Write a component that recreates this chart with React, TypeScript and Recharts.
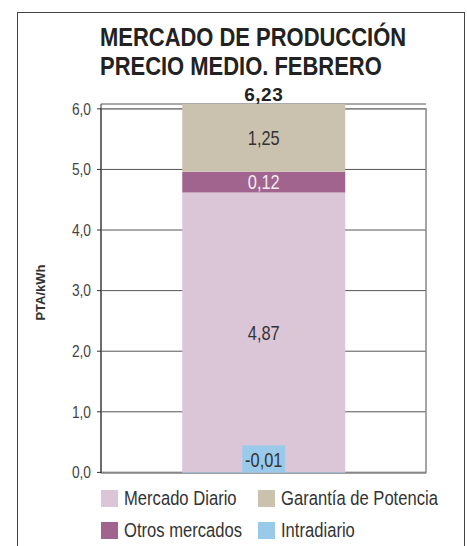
import React from 'react';
import { BarChart, Bar, XAxis, YAxis, CartesianGrid, ReferenceArea, LabelList, Legend } from 'recharts';

const categories = ['Febrero'];
const seriesNames = ['Mercado Diario', 'Otros mercados', 'Garantía de Potencia', 'Intradiario'];
const seriesColors = ['#DBC6D8', '#A0648F', '#CBC1AF', '#9ACAEA'];
const mercadoDiario = [4.62];
const otrosMercados = [0.34];
const garantiaPotencia = [1.12];
const intradiario = [-0.01];
const mercadoDiarioLabels = ['4,87'];
const otrosMercadosLabels = ['0,12'];
const garantiaPotenciaLabels = ['1,25'];
const intradiarioLabels = ['-0,01'];
const totalLabels = ['6,23'];
const yTicks = [0, 1, 2, 3, 4, 5, 6];
const legendOrder = [0, 2, 1, 3];

const FONT = '"Liberation Sans", Arial, sans-serif';
const SX = 0.82;

const data = categories.map((c, i) => ({
  name: c,
  md: mercadoDiario[i],
  om: otrosMercados[i],
  gp: garantiaPotencia[i],
  id: intradiario[i],
  mdL: mercadoDiarioLabels[i],
  omL: otrosMercadosLabels[i],
  gpL: garantiaPotenciaLabels[i],
  idL: intradiarioLabels[i],
  totL: totalLabels[i],
}));

type NTProps = {
  x: number;
  y: number;
  size: number;
  weight?: string;
  fill?: string;
  anchor?: 'start' | 'middle' | 'end';
  rotate?: number;
  sx?: number;
  children?: React.ReactNode;
};

// y is the vertical centre of capital letters
const NText = ({ x, y, size, weight = 'normal', fill = '#333', anchor = 'middle', rotate = 0, sx = SX, children }: NTProps) => (
  <text
    transform={`translate(${x},${y}) rotate(${rotate}) scale(${sx},1)`}
    x={0}
    y={0.358 * size}
    textAnchor={anchor}
    fontFamily={FONT}
    fontSize={size}
    fontWeight={weight}
    fill={fill}
  >
    {children}
  </text>
);

const centerLabel = (fill: string) => (p: any) => {
  const vb = p.viewBox || p;
  const x = Number(vb.x);
  const y = Number(vb.y);
  const w = Number(vb.width);
  const h = Number(vb.height);
  return (
    <NText x={x + w / 2} y={y + h / 2} size={20} fill={fill}>
      {p.value}
    </NText>
  );
};

const TotalLabel = (p: any) => {
  const vb = p.viewBox || p;
  const x = Number(vb.x);
  const y = Number(vb.y);
  const w = Number(vb.width);
  const h = Number(vb.height);
  const top = Math.min(y, y + h);
  return (
    <text x={x + w / 2} y={top - 3.5} textAnchor="middle" fontFamily={FONT} fontSize={19} fontWeight="bold" fill="#222" letterSpacing={0.5}>
      {p.value}
    </text>
  );
};

const IntraLabel = (p: any) => {
  const vb = p.viewBox || p;
  const x = Number(vb.x);
  const y = Number(vb.y);
  const w = Number(vb.width);
  const h = Number(vb.height);
  const base = Math.max(y, y + h) - Math.abs(h);
  const cx = x + w / 2;
  const bw = 43;
  const bh = 27;
  return (
    <g>
      <rect x={cx - bw / 2} y={base - bh} width={bw} height={bh} fill={seriesColors[3]} />
      <NText x={cx} y={base - bh / 2 + 1} size={20} fill="#333">
        {p.value}
      </NText>
    </g>
  );
};

const YTick = (p: any) => (
  <NText x={p.x} y={p.y} size={16} fill="#444" anchor="end" sx={0.86}>
    {Number(p.payload.value).toFixed(1).replace('.', ',')}
  </NText>
);

const YLabel = (p: any) => {
  const vb = p.viewBox || {};
  const cy = Number(vb.y) + Number(vb.height) / 2 + 4;
  return (
    <text transform={`translate(45,${cy}) rotate(-90)`} textAnchor="middle" fontFamily={FONT} fontSize={13} fontWeight="bold" fill="#333">
      PTA/kWh
    </text>
  );
};

const narrowSpan = (text: string, sx: number, extra?: React.CSSProperties) => (
  <span style={{ display: 'inline-block', transform: `scaleX(${sx})`, transformOrigin: 'left center', whiteSpace: 'nowrap', ...extra }}>{text}</span>
);

const LegendContent = () => (
  <div style={{ fontFamily: FONT, fontSize: 20.5, color: '#333' }}>
    {[0, 1].map((r) => (
      <div key={r} style={{ display: 'flex', height: 32, alignItems: 'center' }}>
        {legendOrder.slice(r * 2, r * 2 + 2).map((si) => (
          <div key={si} style={{ display: 'flex', alignItems: 'center', width: 157 }}>
            <span style={{ display: 'inline-block', flex: 'none', width: 17, height: 17, background: seriesColors[si], marginRight: 6 }} />
            {narrowSpan(seriesNames[si], 0.81, { lineHeight: 1 })}
          </div>
        ))}
      </div>
    ))}
  </div>
);

export default function App() {
  return (
    <div style={{ position: 'absolute', left: 0, top: 0, width: 467, height: 546, background: '#fff', overflow: 'hidden' }}>
      <div style={{ position: 'absolute', left: 17, top: 12, width: 446, height: 560, border: '1px solid #444' }} />
      <div
        style={{
          position: 'absolute',
          left: 100,
          top: 23,
          fontFamily: FONT,
          fontWeight: 'bold',
          fontSize: 25,
          lineHeight: '29px',
          color: '#222',
        }}
      >
        <div>{narrowSpan('MERCADO DE PRODUCCIÓN', 0.878)}</div>
        <div>{narrowSpan('PRECIO MEDIO. FEBRERO', 0.878)}</div>
      </div>
      <div style={{ position: 'absolute', left: 0, top: 0 }}>
        <BarChart width={467} height={546} data={data} stackOffset="sign" barCategoryGap="25%" margin={{ top: 104, right: 41, bottom: 73, left: 0 }}>
          <CartesianGrid vertical={false} stroke="#555" />
          <ReferenceArea y1={0} y2={6} fill="none" stroke="#888" strokeWidth={1.5} />
          <XAxis dataKey="name" tick={false} height={0} axisLine={{ stroke: '#333' }} tickLine={false} />
          <YAxis
            width={101}
            domain={[0, 'dataMax']}
            ticks={yTicks}
            interval={0}
            tick={YTick}
            tickSize={4}
            tickMargin={6}
            axisLine={{ stroke: '#333' }}
            tickLine={{ stroke: '#333' }}
            label={{ content: YLabel }}
          />
          <Legend layout="horizontal" verticalAlign="middle" wrapperStyle={{ top: 482, left: 101, width: 340 }} content={LegendContent} />
          <Bar dataKey="md" name={seriesNames[0]} stackId="a" fill={seriesColors[0]} isAnimationActive={false}>
            <LabelList dataKey="mdL" content={centerLabel('#333')} />
          </Bar>
          <Bar dataKey="om" name={seriesNames[1]} stackId="a" fill={seriesColors[1]} isAnimationActive={false}>
            <LabelList dataKey="omL" content={centerLabel('#F4ECF2')} />
          </Bar>
          <Bar dataKey="gp" name={seriesNames[2]} stackId="a" fill={seriesColors[2]} isAnimationActive={false}>
            <LabelList dataKey="gpL" content={centerLabel('#333')} />
            <LabelList dataKey="totL" content={TotalLabel} />
          </Bar>
          <Bar dataKey="id" name={seriesNames[3]} stackId="a" fill={seriesColors[3]} isAnimationActive={false}>
            <LabelList dataKey="idL" content={IntraLabel} />
          </Bar>
        </BarChart>
      </div>
    </div>
  );
}
